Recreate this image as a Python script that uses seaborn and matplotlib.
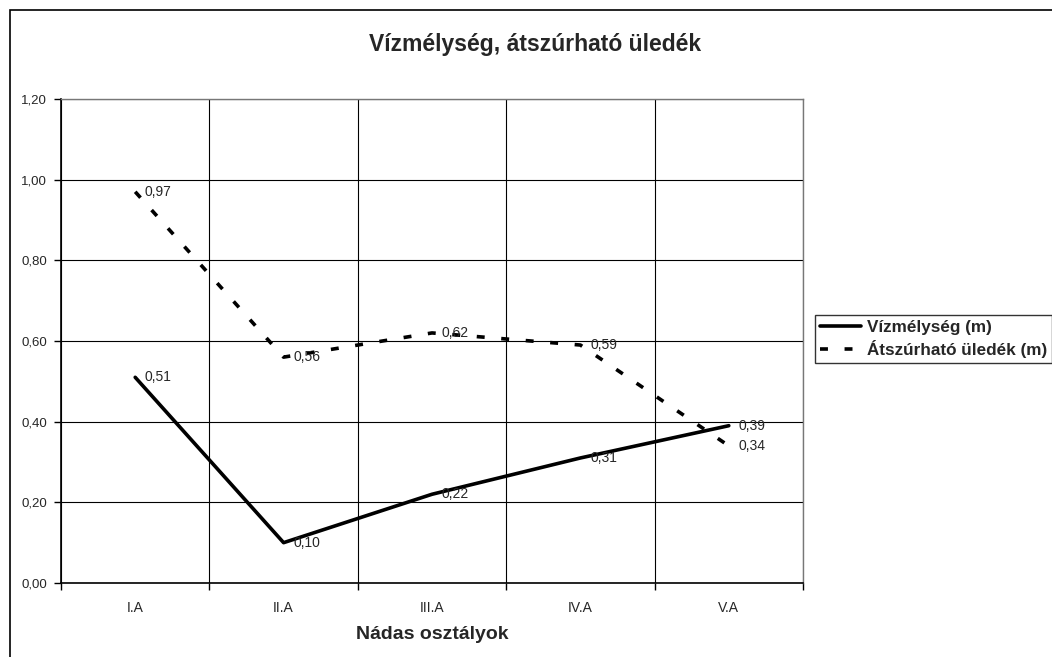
import numpy as np
import pandas as pd
import matplotlib
matplotlib.use('Agg')
import matplotlib.pyplot as plt
import seaborn as sns
from matplotlib.patches import Rectangle
from matplotlib.ticker import FuncFormatter, FixedLocator

sns.set_theme(style='white')
plt.rcParams['font.family'] = ['Liberation Sans', 'DejaVu Sans']

# adatok
osztalyok = ['I.A', 'II.A', 'III.A', 'IV.A', 'V.A']
vizmelyseg = [0.51, 0.10, 0.22, 0.31, 0.39]
atszurhato = [0.97, 0.56, 0.62, 0.59, 0.34]
y_ticks = [0.0, 0.2, 0.4, 0.6, 0.8, 1.0, 1.2]

df = pd.DataFrame({
    'osztaly': osztalyok * 2,
    'pos': list(range(len(osztalyok))) * 2,
    'ertek': vizmelyseg + atszurhato,
    'sorozat': ['Vízmélység (m)'] * 5 + ['Átszúrható üledék (m)'] * 5,
})

fig = plt.figure(figsize=(10.52, 6.57), dpi=100)
ax = fig.add_axes([61 / 1052, 1 - 583 / 657, (803 - 61) / 1052, (583 - 99) / 657])

sns.lineplot(data=df, x='pos', y='ertek', style='sorozat', color='black',
             linewidth=2.6, dashes={'Vízmélység (m)': '', 'Átszúrható üledék (m)': (2.2, 4.6)},
             ax=ax, legend=True)

# adatcímkék
for i in range(len(osztalyok)):
    for v in (vizmelyseg[i], atszurhato[i]):
        ax.annotate(f'{v:.2f}'.replace('.', ','), (i, v), xytext=(7, 0),
                    textcoords='offset points', fontsize=10, va='center', ha='left')

ax.set_xlim(-0.5, len(osztalyok) - 0.5)
ax.set_ylim(0, 1.2)
ax.set_yticks(y_ticks)
ax.yaxis.set_major_formatter(FuncFormatter(lambda v, p: f'{v:.2f}'.replace('.', ',')))
ax.set_xticks(range(len(osztalyok)))
ax.set_xticklabels(osztalyok, fontsize=10)
ax.xaxis.set_minor_locator(FixedLocator(np.arange(-0.5, len(osztalyok), 1.0)))
ax.tick_params(axis='x', which='major', length=0, pad=13)
ax.tick_params(axis='x', which='minor', length=5, width=1, color='black', direction='out', bottom=True)
ax.tick_params(axis='y', length=5, width=1, color='black', direction='out', left=True,
               labelsize=9.5, pad=5)
ax.grid(True, axis='y', which='major', color='black', linewidth=0.8)
ax.grid(True, axis='x', which='minor', color='black', linewidth=0.8)

for side in ['left', 'bottom']:
    ax.spines[side].set_color('black')
    ax.spines[side].set_linewidth(1.2)
for side in ['top', 'right']:
    ax.spines[side].set_color('#777777')
    ax.spines[side].set_linewidth(1)

ax.set_ylabel('')
ax.set_xlabel('Nádas osztályok', fontsize=14, fontweight='bold', labelpad=8)
fig.text(535 / 1052, 1 - 45 / 657, 'Vízmélység, átszúrható üledék',
         fontsize=16.5, fontweight='bold', ha='center', va='center')

leg = ax.legend(loc='upper left', bbox_to_anchor=(815 / 1052, 1 - 315 / 657),
                bbox_transform=fig.transFigure, frameon=True, fancybox=False,
                prop={'weight': 'bold', 'size': 12.3}, handlelength=2.4,
                handletextpad=0.35, borderpad=0.3, labelspacing=0.3, borderaxespad=0)
leg.get_frame().set_edgecolor('black')
leg.get_frame().set_linewidth(1)

# diagram keret
fig.patches.append(Rectangle((10 / 1052, -0.01), 1.0, 1 - 10 / 657 + 0.01,
                             transform=fig.transFigure, fill=False,
                             edgecolor='black', linewidth=1.2))

fig.savefig('out.png', dpi=100)
